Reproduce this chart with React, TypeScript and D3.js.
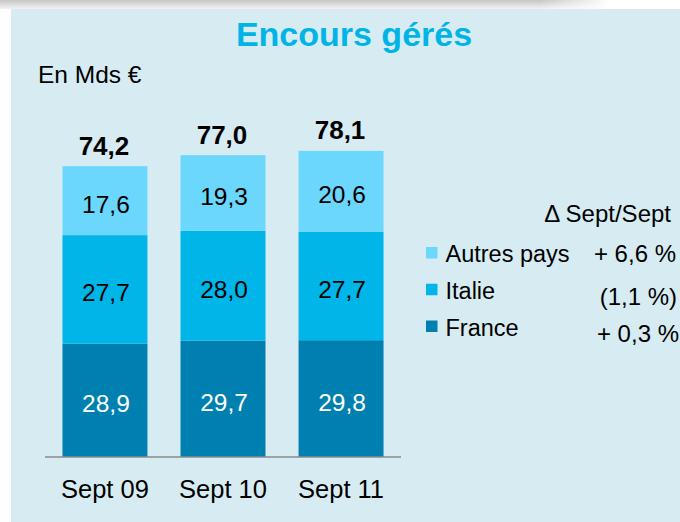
import React from "react";
import * as d3 from "d3";

const periods = ["Sept 09", "Sept 10", "Sept 11"];
const france = [28.9, 29.7, 29.8];
const italie = [27.7, 28.0, 27.7];
const autres = [17.6, 19.3, 20.6];

const seriesNames = ["France", "Italie", "Autres pays"];
const legendNames = ["Autres pays", "Italie", "France"];
const variations = ["+ 6,6 %", "(1,1 %)", "+ 0,3 %"];

const W = 680;
const H = 522;
const FONT = "'Liberation Sans', Arial, sans-serif";

const colors: Record<string, string> = {
  France: "#0080b0",
  Italie: "#00b5e7",
  "Autres pays": "#6bd7fd",
};
const labelColors: Record<string, string> = {
  France: "#ffffff",
  Italie: "#000000",
  "Autres pays": "#000000",
};

const fr = d3.formatLocale({ decimal: ",", thousands: " ", grouping: [3], currency: ["", " €"] });
const fmt = fr.format(".1f");

export default function App() {
  const rows = periods.map((p, i) => ({
    period: p,
    France: france[i],
    Italie: italie[i],
    "Autres pays": autres[i],
  }));
  const stacked = d3.stack<any>().keys(seriesNames)(rows);
  const totals = rows.map(r => seriesNames.reduce((s, k) => s + (r as any)[k], 0));

  const x = d3.scaleBand().domain(periods).range([45, 401]).paddingInner(0.28).paddingOuter(0.148);
  const y = d3.scaleLinear().domain([0, 80]).range([457, 143.4]);

  const legendY = d3.scalePoint().domain(legendNames).range([262, 335.5]);
  // variation column, right aligned like in the slide
  const varEnd = [676, 677, 679];
  const varY = [262, 305, 341.5];

  return (
    <svg width={W} height={H} style={{ position: "absolute", left: 0, top: 0 }} fontFamily={FONT}>
      <defs>
        <linearGradient id="topband" x1="0" y1="0" x2="0" y2="1">
          <stop offset="0" stopColor="#c6c6c6" />
          <stop offset="1" stopColor="#f3f3f3" />
        </linearGradient>
        <linearGradient id="fade" x1="0" y1="0" x2="1" y2="0">
          <stop offset="0" stopColor="#ffffff" stopOpacity={0} />
          <stop offset="1" stopColor="#ffffff" stopOpacity={1} />
        </linearGradient>
      </defs>
      <rect x={0} y={0} width={W} height={H} fill="#ffffff" />
      <rect x={0} y={0} width={W} height={9} fill="url(#topband)" />
      <rect x={540} y={0} width={70} height={9} fill="url(#fade)" />
      <rect x={610} y={0} width={70} height={9} fill="#ffffff" />
      <rect x={11} y={9} width={W - 11} height={H - 9} fill="#d7ecf2" />

      <text x={354} y={45.5} textAnchor="middle" fontSize={34} fontWeight="bold" fill="#00b4e6">
        Encours gérés
      </text>
      <text x={38} y={82.5} fontSize={24.5} fill="#000">
        En Mds €
      </text>

      {stacked.map(s => (
        <g key={s.key}>
          {s.map((d, i) => (
            <g key={i}>
              <rect
                x={x(periods[i])}
                y={y(d[1])}
                width={x.bandwidth()}
                height={y(d[0]) - y(d[1])}
                fill={colors[s.key]}
              />
              <text
                x={(x(periods[i]) as number) + x.bandwidth() / 2 + 1}
                y={(y(d[0]) + y(d[1])) / 2 + 12}
                textAnchor="middle"
                fontSize={24.5}
                fill={labelColors[s.key]}
              >
                {fmt(d[1] - d[0])}
              </text>
            </g>
          ))}
        </g>
      ))}

      {totals.map((t, i) => (
        <text
          key={i}
          x={(x(periods[i]) as number) + x.bandwidth() / 2 - 1}
          y={y(t) - 11.5}
          textAnchor="middle"
          fontSize={26}
          fontWeight="bold"
          fill="#000"
        >
          {fmt(t)}
        </text>
      ))}

      <line x1={x.range()[0]} x2={x.range()[1]} y1={457} y2={457} stroke="#8a8a8a" strokeWidth={1.5} />

      {periods.map(p => (
        <text
          key={p}
          x={(x(p) as number) + x.bandwidth() / 2}
          y={497.5}
          textAnchor="middle"
          fontSize={25.5}
          fill="#000"
        >
          {p}
        </text>
      ))}

      <text x={671} y={222} textAnchor="end" fontSize={24} fill="#000">
        Δ Sept/Sept
      </text>
      {legendNames.map((n, i) => (
        <g key={n}>
          <rect x={426} y={(legendY(n) as number) - 15} width={11.5} height={11.5} fill={colors[n]} />
          <text x={445.5} y={legendY(n)} fontSize={23.5} fill="#000">
            {n}
          </text>
          <text x={varEnd[i]} y={varY[i]} textAnchor="end" fontSize={24} fill="#000">
            {variations[i]}
          </text>
        </g>
      ))}
    </svg>
  );
}
